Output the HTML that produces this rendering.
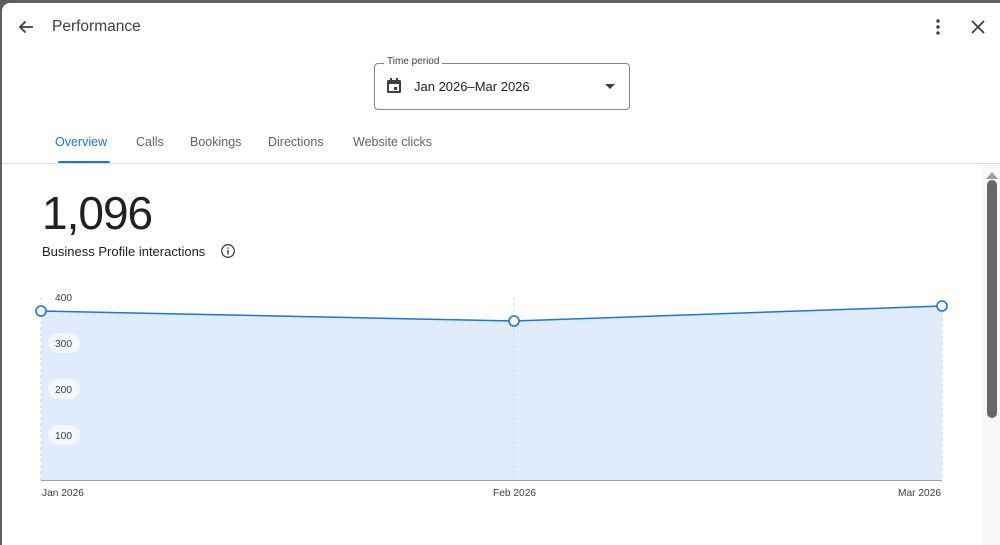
<!DOCTYPE html>
<html><head><meta charset="utf-8"><style>
html,body{margin:0;padding:0;width:1000px;height:545px;overflow:hidden;background:#5f5f5f;font-family:"Liberation Sans",Arial,sans-serif;}
#p{position:absolute;left:2px;top:3px;width:998px;height:542px;background:#fff;border-top-left-radius:8px;overflow:hidden;}
.a{position:absolute;white-space:nowrap;}
</style></head><body>
<div id="p">
<svg class="a" style="left:14px;top:14px" width="20" height="20" viewBox="0 0 20 20"><path d="M17 10H4M9.5 4.5L4 10l5.5 5.5" stroke="#3c4043" stroke-width="1.8" fill="none"/></svg>
<div class="a" style="left:50px;top:15px;font-size:15.5px;color:#3c4043">Performance</div>
<svg class="a" style="left:926px;top:14px" width="20" height="20"><circle cx="10" cy="4" r="1.7" fill="#3c4043"/><circle cx="10" cy="10" r="1.7" fill="#3c4043"/><circle cx="10" cy="16" r="1.7" fill="#3c4043"/></svg>
<svg class="a" style="left:966px;top:14px" width="20" height="20"><path d="M4 4L16 16M16 4L4 16" stroke="#3c4043" stroke-width="1.8"/></svg>
<div class="a" style="left:372px;top:60px;width:254px;height:45px;border:1px solid #80868b;border-radius:4px"></div>
<div class="a" style="left:382px;top:53px;font-size:10px;color:#3c4043;background:#fff;padding:0 3px">Time period</div>
<svg class="a" style="left:383px;top:74px" width="18" height="18"><rect x="2" y="3" width="14" height="13" rx="1.5" fill="#3c4043"/><rect x="4" y="7" width="10" height="7" fill="#fff"/><rect x="5" y="1" width="2" height="3" fill="#3c4043"/><rect x="11" y="1" width="2" height="3" fill="#3c4043"/><rect x="9" y="10" width="3" height="3" fill="#3c4043"/></svg>
<div class="a" style="left:412px;top:76px;font-size:13px;color:#202124">Jan 2026–Mar 2026</div>
<svg class="a" style="left:602px;top:80px" width="12" height="8"><path d="M1 1h10L6 6z" fill="#3c4043"/></svg>
<div class="a" style="left:53px;top:132px;font-size:12.5px;color:#1a73e8">Overview</div>
<div class="a" style="left:56px;top:158px;width:52px;height:3px;background:#1a73e8;border-radius:2px 2px 0 0"></div>
<div class="a" style="left:134px;top:132px;font-size:12.5px;color:#5f6368">Calls</div>
<div class="a" style="left:188px;top:132px;font-size:12.5px;color:#5f6368">Bookings</div>
<div class="a" style="left:266px;top:132px;font-size:12.5px;color:#5f6368">Directions</div>
<div class="a" style="left:351px;top:132px;font-size:12.5px;color:#5f6368">Website clicks</div>
<div class="a" style="left:0;top:160px;width:998px;height:1px;background:#dadce0"></div>
<div class="a" style="left:40px;top:183px;font-size:46px;color:#202124;letter-spacing:-1px">1,096</div>
<div class="a" style="left:40px;top:241px;font-size:13px;color:#202124">Business Profile interactions</div>
<svg class="a" style="left:218px;top:240px" width="16" height="16"><circle cx="8" cy="8" r="6.3" stroke="#3c4043" stroke-width="1.3" fill="none"/><rect x="7.3" y="7" width="1.4" height="4.5" fill="#3c4043"/><rect x="7.3" y="4.4" width="1.4" height="1.4" fill="#3c4043"/></svg>
<svg class="a" style="left:0;top:0" width="998" height="542">
<path d="M39 308 L512 318 L940 303 L940 477 L39 477Z" fill="#e0ecfc"/>
<line x1="39" y1="294" x2="39" y2="477" stroke="#d0d4da" stroke-dasharray="3,3"/>
<line x1="512" y1="294" x2="512" y2="477" stroke="#d0d4da" stroke-dasharray="3,3"/>
<line x1="940" y1="303" x2="940" y2="477" stroke="#d0d4da" stroke-dasharray="3,3"/>
<line x1="39" y1="477.5" x2="940" y2="477.5" stroke="#9aa0a6" stroke-width="1"/>
<path d="M39 308 L512 318 L940 303" stroke="#1a73e8" stroke-width="1.5" fill="none"/>
<circle cx="39" cy="308" r="5" fill="#fff" stroke="#1a73e8" stroke-width="1.6"/>
<circle cx="512" cy="318" r="5" fill="#fff" stroke="#1a73e8" stroke-width="1.6"/>
<circle cx="940" cy="303" r="5" fill="#fff" stroke="#1a73e8" stroke-width="1.6"/>
<rect x="46" y="330" width="32" height="20" rx="10" fill="#f4f7fc"/>
<rect x="46" y="376" width="32" height="20" rx="10" fill="#f4f7fc"/>
<rect x="46" y="422" width="32" height="20" rx="10" fill="#f4f7fc"/>
<g font-size="10.2" fill="#3c4043" font-family="Liberation Sans,Arial,sans-serif">
<text x="53" y="298">400</text><text x="53" y="344">300</text><text x="53" y="390">200</text><text x="53" y="436">100</text>
<text x="40" y="493">Jan 2026</text><text x="491" y="493">Feb 2026</text><text x="896" y="493">Mar 2026</text></g>
<rect x="981" y="161" width="17" height="381" fill="#f8f8f8"/>
<path d="M984 176 L990 169 L996 176Z" fill="#a0a0a0"/>
<rect x="985" y="177" width="10" height="238" rx="5" fill="#686868"/>
</svg>
</div>
</body></html>
